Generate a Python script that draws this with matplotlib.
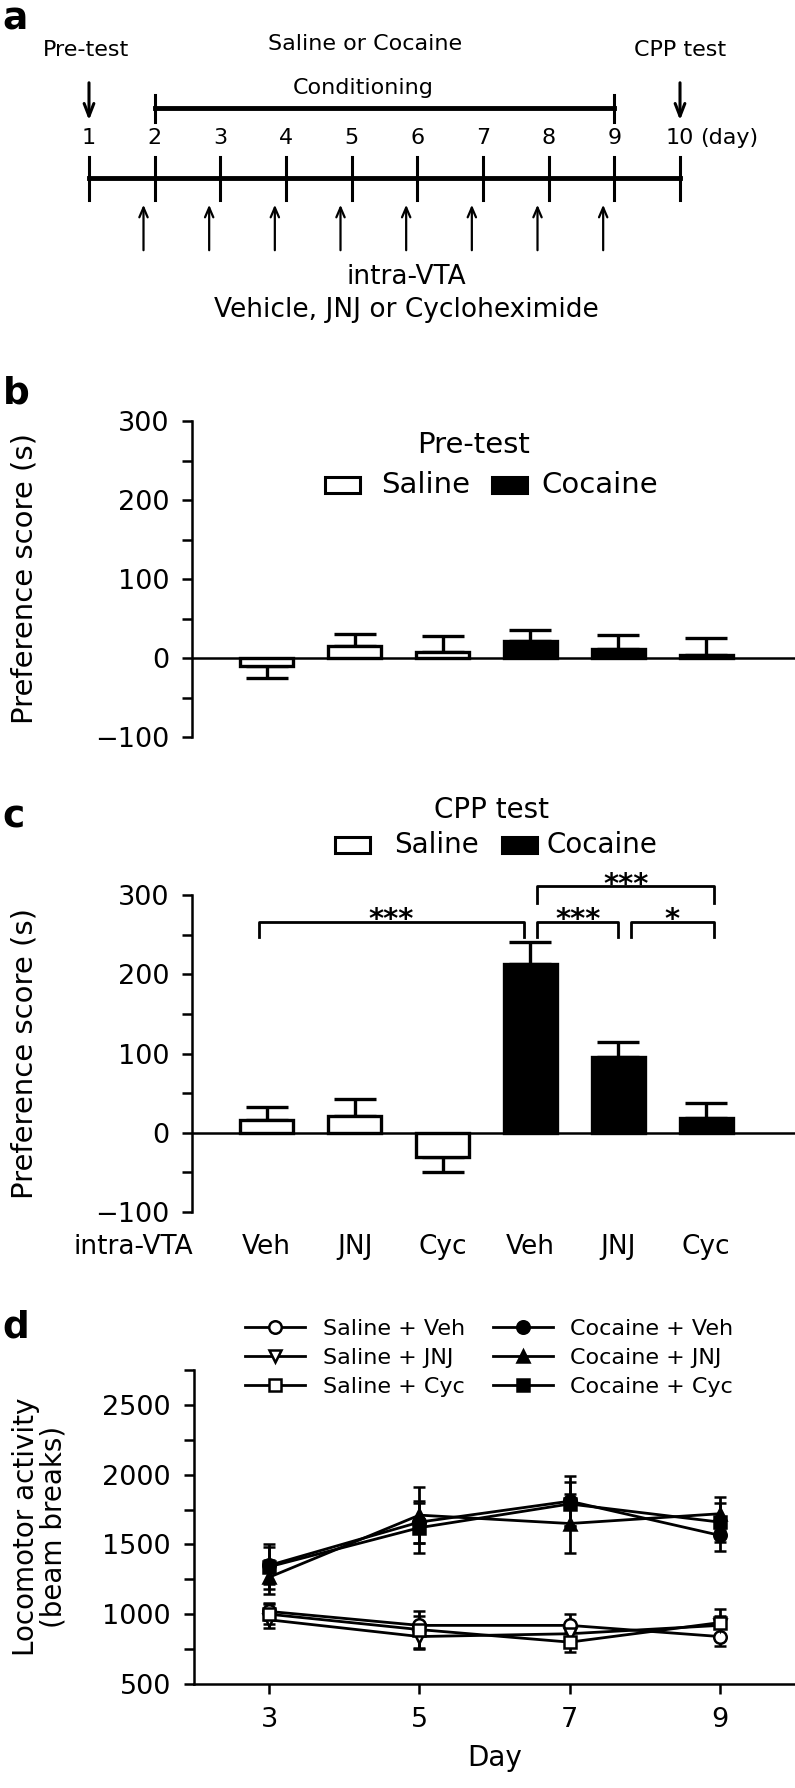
import matplotlib.pyplot as plt
import matplotlib.ticker as mticker

plt.rcParams['font.family'] = ['DejaVu Sans']
plt.rcParams['axes.linewidth'] = 1.8

# ---- data ----
days_all = list(range(1, 11))
inj_days = list(range(2, 10))

groups = ['Veh', 'JNJ', 'Cyc', 'Veh', 'JNJ', 'Cyc']
fills = ['white', 'white', 'white', 'black', 'black', 'black']

pre_mean = [-10, 15, 7, 21, 12, 4]
pre_sem = [15, 15, 21, 15, 17, 21]

cpp_mean = [16, 21, -30, 213, 96, 19]
cpp_sem = [17, 21, 20, 28, 19, 18]

loco_days = [3, 5, 7, 9]
sal_veh = [1020, 920, 920, 840]
sal_veh_sem = [60, 70, 80, 70]
sal_jnj = [960, 840, 860, 920]
sal_jnj_sem = [60, 90, 70, 70]
sal_cyc = [1000, 890, 800, 940]
sal_cyc_sem = [70, 130, 70, 100]
coc_veh = [1350, 1660, 1810, 1565]
coc_veh_sem = [130, 150, 180, 110]
coc_jnj = [1265, 1710, 1650, 1720]
coc_jnj_sem = [120, 200, 210, 120]
coc_cyc = [1340, 1620, 1790, 1660]
coc_cyc_sem = [160, 180, 160, 140]

fig = plt.figure(figsize=(7.95, 17.88), dpi=100)
H = 1788.0
W = 795.0

def box(l, t, r, b):
    return [l / W, 1 - b / H, (r - l) / W, (b - t) / H]

def panel_label(s, y, va='baseline'):
    fig.text(0.003, 1 - y / H, s, fontsize=27, fontweight='bold', ha='left', va=va)

# ---- panel a : timeline (x in days, y in pixels from top) ----
axa = fig.add_axes(box(0, 0, 795, 340))
axa.set_xlim(1 - 89 / 65.67, 10 + 115 / 65.67)
axa.set_ylim(340, 0)
axa.axis('off')
fa = 16
panel_label('a', 1, va='top')
axa.text(0.95, 50, 'Pre-test', fontsize=fa, ha='center', va='center')
axa.text(5.2, 44, 'Saline or Cocaine', fontsize=fa, ha='center', va='center')
axa.text(10.0, 50, 'CPP test', fontsize=fa, ha='center', va='center')
axa.text(5.17, 88, 'Conditioning', fontsize=fa, ha='center', va='center')
axa.plot([2, 9], [108, 108], color='black', lw=3.5)
for d in [2, 9]:
    axa.plot([d, d], [95, 122], color='black', lw=2.2)
for d in [1, 10]:
    axa.annotate('', xy=(d, 123), xytext=(d, 80),
                 arrowprops=dict(arrowstyle='->,head_length=0.9,head_width=0.35', lw=2.2, color='black'))
for d in days_all:
    axa.text(d, 138, str(d), fontsize=fa, ha='center', va='center')
axa.text(10.3, 138, '(day)', fontsize=fa, ha='left', va='center')
axa.plot([1, 10], [178, 178], color='black', lw=3.5)
for d in days_all:
    axa.plot([d, d], [157, 200], color='black', lw=2.2)
for d in inj_days:
    axa.annotate('', xy=(d - 0.17, 202), xytext=(d - 0.17, 253),
                 arrowprops=dict(arrowstyle='->,head_length=0.7,head_width=0.3', lw=1.6, color='black'))
axa.text(5.83, 277, 'intra-VTA', fontsize=19, ha='center', va='center')
axa.text(5.83, 310, 'Vehicle, JNJ or Cycloheximide', fontsize=19, ha='center', va='center')


def bar_panel(ax, means, sems):
    x = list(range(len(means)))
    ax.bar(x, means, width=0.6, color=fills, edgecolor='black', linewidth=2.4, zorder=3)
    lo = [s if m < 0 else 0 for m, s in zip(means, sems)]
    hi = [0 if m < 0 else s for m, s in zip(means, sems)]
    ax.errorbar(x, means, yerr=[lo, hi], fmt='none', ecolor='black', elinewidth=2.4,
                capsize=15, capthick=2.4, zorder=2)
    ax.axhline(0, color='black', lw=1.8, zorder=4)
    ax.set_xlim(-0.85, 6.01)
    ax.set_ylim(-100, 300)
    ax.set_yticks([-100, 0, 100, 200, 300])
    ax.set_yticklabels(['\u2212100', '0', '100', '200', '300'])
    ax.yaxis.set_minor_locator(mticker.MultipleLocator(50))
    ax.set_xticks([])
    for s in ['top', 'right', 'bottom']:
        ax.spines[s].set_visible(False)
    ax.tick_params(axis='y', which='both', direction='out', length=7.5, width=1.8, labelsize=19.5, pad=9)
    ax.set_ylabel('Preference score (s)', fontsize=21)
    ax.yaxis.set_label_coords(-0.255, 0.5)


def legend_row(ax, y, xs, title, ty, fs):
    # xs: box left for saline, text x, box left for cocaine, text x, title x (axes fraction)
    ax.text(xs[4], ty, title, transform=ax.transAxes, fontsize=fs, ha='center', va='center')
    ax.add_patch(plt.Rectangle((xs[0], y - 0.025), 0.058, 0.05, transform=ax.transAxes,
                               facecolor='white', edgecolor='black', lw=2.2, clip_on=False))
    ax.text(xs[1], y, 'Saline', transform=ax.transAxes, fontsize=fs, ha='left', va='center')
    ax.add_patch(plt.Rectangle((xs[2], y - 0.025), 0.058, 0.05, transform=ax.transAxes,
                               facecolor='black', edgecolor='black', lw=2.2, clip_on=False))
    ax.text(xs[3], y, 'Cocaine', transform=ax.transAxes, fontsize=fs, ha='left', va='center')


# ---- panel b ----
axb = fig.add_axes(box(192, 421, 795, 737))
bar_panel(axb, pre_mean, pre_sem)
panel_label('b', 403)
legend_row(axb, 1 - (485 - 421) / 316.0,
           [(325 - 192) / 603, (381 - 192) / 603, (492 - 192) / 603, (541 - 192) / 603, (474 - 192) / 603],
           'Pre-test', 1 - (445 - 421) / 316.0, 21)

# ---- panel c ----
axc = fig.add_axes(box(192, 895, 795, 1212))
bar_panel(axc, cpp_mean, cpp_sem)
panel_label('c', 827)
legend_row(axc, 1 + (895 - 845) / 317.0,
           [(335 - 192) / 603, (394 - 192) / 603, (502 - 192) / 603, (546 - 192) / 603, (492 - 192) / 603],
           'CPP test', 1 + (895 - 810) / 317.0, 20)
axc.text(-1.52, -144, 'intra-VTA', fontsize=19, ha='center', va='center')
for i, g in enumerate(groups):
    axc.text(i, -144, g, fontsize=19, ha='center', va='center')


def bracket(ax, x1, x2, ytop, yleg, label):
    ax.plot([x1, x1, x2, x2], [yleg, ytop, ytop, yleg], color='black', lw=2, clip_on=False)
    ax.text((x1 + x2) / 2, ytop - 8, label, fontsize=21, ha='center', va='baseline', fontweight='bold')


bracket(axc, -0.09, 2.93, 266, 247, '***')
bracket(axc, 3.08, 4.0, 266, 247, '***')
bracket(axc, 4.14, 5.09, 266, 247, '*')
bracket(axc, 3.08, 5.09, 311, 290, '***')

# ---- panel d ----
axd = fig.add_axes(box(194, 1370, 795, 1684))
panel_label('d', 1338)
series = [
    ('Saline + Veh', sal_veh, sal_veh_sem, 'o', 'white'),
    ('Saline + JNJ', sal_jnj, sal_jnj_sem, 'v', 'white'),
    ('Saline + Cyc', sal_cyc, sal_cyc_sem, 's', 'white'),
    ('Cocaine + Veh', coc_veh, coc_veh_sem, 'o', 'black'),
    ('Cocaine + JNJ', coc_jnj, coc_jnj_sem, '^', 'black'),
    ('Cocaine + Cyc', coc_cyc, coc_cyc_sem, 's', 'black'),
]
handles = []
labels = []
for name, vals, sem, mk, fc in series:
    h = axd.errorbar(loco_days, vals, yerr=sem, color='black', lw=2, marker=mk, markersize=9,
                     markerfacecolor=fc, markeredgecolor='black', markeredgewidth=1.8,
                     ecolor='black', elinewidth=2, capsize=4, capthick=2)
    handles.append(h[0])
    labels.append(name)
axd.set_xlim(2, 10)
axd.set_ylim(500, 2750)
axd.set_xticks(loco_days)
axd.set_yticks([500, 1000, 1500, 2000, 2500])
axd.yaxis.set_minor_locator(mticker.MultipleLocator(250))
for s in ['top', 'right']:
    axd.spines[s].set_visible(False)
axd.tick_params(axis='both', which='both', direction='out', length=7.5, width=1.8, labelsize=19.5, pad=9)
axd.set_xlabel('Day', fontsize=20, labelpad=8)
axd.set_ylabel('Locomotor activity\n(beam breaks)', fontsize=20, linespacing=1.0)
axd.yaxis.set_label_coords(-0.21, 0.5)
axd.legend(handles=handles, labels=labels, ncol=2, loc='upper left', bbox_to_anchor=(245 / W, 1 - 1319 / H),
           bbox_transform=fig.transFigure, frameon=False, fontsize=16, handlelength=2.7,
           columnspacing=1.25, labelspacing=0.4, handletextpad=0.8, borderpad=0, borderaxespad=0)

fig.savefig('out.png', dpi=100)
